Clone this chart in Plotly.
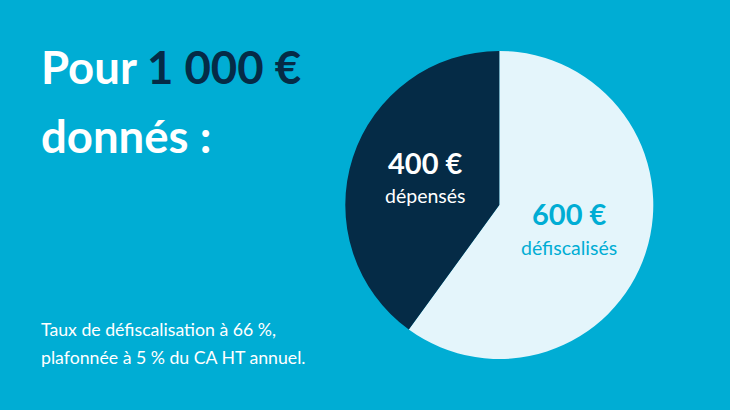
import plotly.graph_objects as go

labels = ["défiscalisés", "dépensés"]
values = [600, 400]
colors = ["#E4F5FB", "#052B46"]
BG = "#00ADD4"
FONT = "Lato"

W, H = 730, 410
cx, cy, r = 499.3, 205, 154

fig = go.Figure(go.Pie(
    labels=labels, values=values, sort=False, direction="clockwise", rotation=0,
    marker=dict(colors=colors, line=dict(width=0)),
    textinfo="none", hoverinfo="skip", showlegend=False,
    domain=dict(x=[(cx - r) / W, (cx + r) / W], y=[1 - (cy + r) / H, 1 - (cy - r) / H]),
))

def note(x, y, text, size, color, bold=False, anchor="left"):
    fig.add_annotation(
        x=x / W, y=1 - y / H, xref="paper", yref="paper", text=f"<b>{text}</b>" if bold else text,
        showarrow=False, xanchor=anchor, yanchor="middle", borderpad=0, xshift=0,
        font=dict(family=FONT, size=size, color=color),
    )

note(40, 66, f"Pour <span style='color:#052B46'>1 000 €</span>", 45.5, "white", True)
note(40, 135, "donnés :", 45.5, "white", True)
note(40, 329, "Taux de défiscalisation à 66 %,", 17.7, "white")
note(40, 357, "plafonnée à 5 % du CA HT annuel.", 17.7, "white")
note(425, 162, "400 €", 29, "white", True, "center")
note(425, 195, "dépensés", 19.5, "white", False, "center")
note(569, 213, "600 €", 29, BG, True, "center")
note(569, 247, "défiscalisés", 19.5, BG, False, "center")

fig.update_layout(
    width=W, height=H, autosize=False, margin=dict(l=0, r=0, t=0, b=0),
    paper_bgcolor=BG, plot_bgcolor=BG,
)
fig.write_html("out.html", config=dict(displayModeBar=False),
               post_script="document.body.style.margin='0';document.body.style.overflow='hidden';document.body.style.background='#00ADD4';")
